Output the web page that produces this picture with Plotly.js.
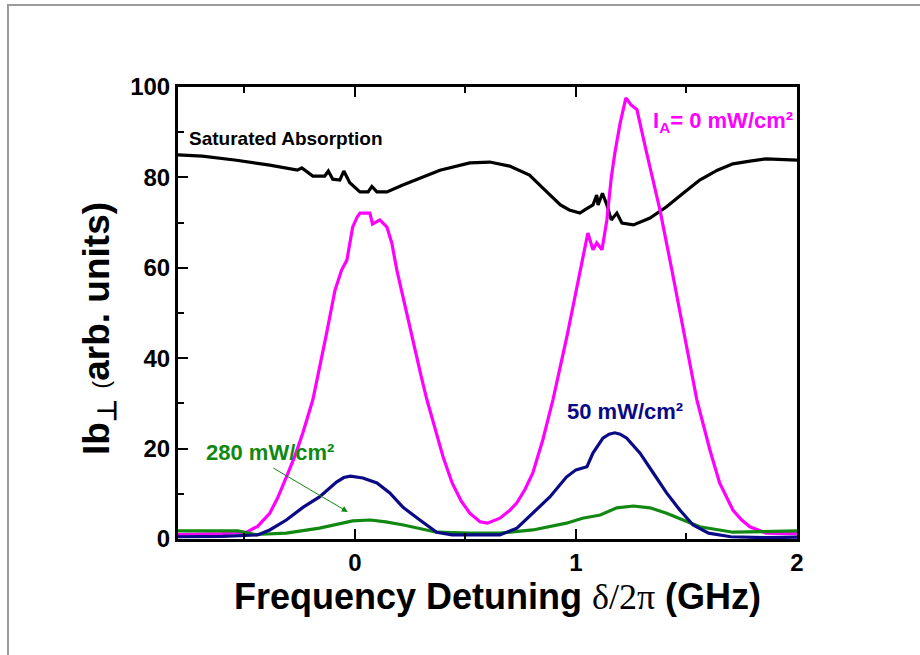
<!DOCTYPE html>
<html>
<head>
<meta charset="utf-8">
<script src="https://cdn.plot.ly/plotly-3.0.1.min.js"></script>
<style>
html,body{margin:0;padding:0;background:#fff;}
#frame{position:absolute;left:7px;top:4px;width:920px;height:660px;border-top:2px solid #9a9a9a;border-left:2px solid #9a9a9a;pointer-events:none;z-index:10;}
</style>
</head>
<body>
<div id="chart" style="width:920px;height:655px;"></div>
<div id="frame"></div>
<script>
// Saturated absorption (black)
const satX = [-0.8,-0.69,-0.535,-0.385,-0.26,-0.24,-0.19,-0.136,-0.12,-0.1,-0.068,-0.05,-0.023,0.023,0.06,0.077,0.1,0.145,0.217,0.285,0.385,0.52,0.61,0.70,0.79,0.86,0.93,0.97,1.018,1.04,1.077,1.094,1.1,1.12,1.14,1.16,1.185,1.208,1.26,1.335,1.41,1.485,1.56,1.64,1.71,1.787,1.86,2.0];
const satY = [85,84.7,83.8,82.7,81.6,82.1,80.3,80.3,81.4,79.6,79.4,81.4,78.8,76.8,76.8,78,76.8,76.8,78.3,79.6,81.6,83.2,83.4,82.5,80.5,77.2,73.9,72.8,72.1,72.8,73.9,76.1,73.9,76.5,73.9,70.6,72.1,69.9,69.5,71,73.5,76.5,79.4,81.6,83,83.6,84.1,83.8];

// I_A = 0 mW/cm^2 (magenta)
const magX = [-0.8,-0.6,-0.49,-0.44,-0.385,-0.35,-0.31,-0.27,-0.235,-0.19,-0.13,-0.09,-0.06,-0.036,-0.01,0.01,0.023,0.068,0.08,0.113,0.145,0.167,0.19,0.22,0.26,0.30,0.326,0.37,0.40,0.44,0.48,0.52,0.566,0.6,0.656,0.70,0.733,0.77,0.805,0.85,0.896,0.96,1.018,1.054,1.077,1.094,1.118,1.14,1.16,1.176,1.2,1.226,1.25,1.276,1.32,1.38,1.434,1.49,1.547,1.606,1.65,1.71,1.75,1.787,1.86,2.0];
const magY = [1.0,1.2,1.5,2.8,5.7,9.0,13.7,18.5,23.5,30.8,45,55,59.5,61.7,69,71.2,72.1,72.1,69.7,70.6,69,65.5,59.5,53,44,36,30.8,23.5,18,12.4,8.5,5.7,3.8,3.5,4.6,6.3,8,11,14.6,21.9,30.8,45,59.5,67.7,64,65.5,64,70.6,80,85.4,92,97.6,96,95,85.4,72.8,59.5,45,30.8,19.7,12.4,6.4,4.2,2.7,1.3,1.2];

// 50 mW/cm^2 (navy)
const blueX = [-0.8,-0.6,-0.44,-0.385,-0.31,-0.235,-0.16,-0.083,-0.05,-0.02,0.036,0.1,0.158,0.218,0.294,0.37,0.44,0.656,0.733,0.805,0.882,0.957,1.0,1.05,1.077,1.122,1.15,1.176,1.2,1.23,1.29,1.35,1.41,1.47,1.53,1.6,1.7,1.86,2.0];
const blueY = [0.5,0.6,0.9,2,4.2,7,9.3,12.6,13.6,13.9,13.5,12.4,10.2,7,4.2,1.5,0.9,0.9,2.4,5.7,9.3,13.7,15.3,16,19,22.3,23.2,23.5,23.2,22.3,19,14.6,10.2,6.4,3.1,1.3,0.5,0.3,0.4];

// 280 mW/cm^2 (green)
const greenX = [-0.8,-0.53,-0.45,-0.31,-0.16,-0.08,-0.01,0.07,0.14,0.22,0.29,0.37,0.52,0.656,0.805,0.957,1.03,1.11,1.185,1.26,1.335,1.41,1.485,1.56,1.71,2.0];
const greenY = [1.8,1.8,1.0,1.3,2.4,3.3,4.0,4.2,3.8,3.1,2.4,1.5,1.3,1.3,2.0,3.5,4.6,5.3,6.9,7.3,6.9,5.7,4.2,2.7,1.5,1.8];

const xTicks = [0,1,2];
const xTickText = ['0','1','2'];
const yTicks = [0,20,40,60,80,100];
const yTickText = ['0','20','40','60','80','100'];

const FONT = 'Liberation Sans, Arial, sans-serif';

const traces = [
  {x: satX, y: satY, mode:'lines', line:{color:'#000000', width:3.2}, name:'Saturated Absorption'},
  {x: magX, y: magY, mode:'lines', line:{color:'#ff00ff', width:3.2}, name:'0 mW/cm²'},
  {x: greenX, y: greenY, mode:'lines', line:{color:'#118811', width:3.2}, name:'280 mW/cm²'},
  {x: blueX, y: blueY, mode:'lines', line:{color:'#0a0a86', width:3.2}, name:'50 mW/cm²'}
];

const layout = {
  width: 920, height: 655,
  margin: {l:178, r:123, t:87, b:116},
  paper_bgcolor:'#ffffff', plot_bgcolor:'#ffffff',
  showlegend:false,
  font:{family:FONT, color:'#000'},
  xaxis:{
    range:[-0.8,2], tickvals:xTicks, ticktext:xTickText,
    ticks:'inside', ticklen:10, tickwidth:2, tickcolor:'#000',
    minor:{tickvals:[-0.5,0.5,1.5], ticks:'inside', ticklen:6, tickwidth:2, tickcolor:'#000'},
    showline:true, linewidth:3, linecolor:'#000', mirror:'ticks',
    showgrid:false, zeroline:false,
    tickfont:{family:FONT, size:24, weight:'bold'},
    title:{text:"&nbsp;&nbsp;Frequency Detuning <span style=\"font-family:'Liberation Serif',serif;font-weight:normal\">δ/2π</span> (GHz)", font:{family:FONT, size:36, weight:'bold'}, standoff:9}
  },
  yaxis:{
    range:[0,100], tickvals:yTicks, ticktext:yTickText,
    ticks:'inside', ticklen:10, tickwidth:2, tickcolor:'#000',
    minor:{dtick:10, ticks:'inside', ticklen:6, tickwidth:2, tickcolor:'#000'},
    showline:true, linewidth:3, linecolor:'#000', mirror:true,
    showgrid:false, zeroline:false,
    tickfont:{family:FONT, size:24, weight:'bold'},
    title:{text:"Ib<sub>⊥</sub> <span style=\"font-size:24px;font-weight:normal\">(</span>arb. units)&nbsp;&nbsp;&nbsp;", font:{family:FONT, size:37, weight:'bold'}, standoff:10}
  },
  annotations:[
    {x:-0.312, y:88.5, xref:'x', yref:'y', text:'Saturated Absorption', showarrow:false, font:{family:FONT, size:19, weight:'bold', color:'#000'}},
    {x:1.665, y:92.3, xref:'x', yref:'y', text:'I<sub>A</sub>= 0 mW/cm²', showarrow:false, font:{family:FONT, size:22, weight:'bold', color:'#ff00ff'}},
    {x:1.222, y:28.3, xref:'x', yref:'y', text:'50 mW/cm²', showarrow:false, font:{family:FONT, size:22, weight:'bold', color:'#0a0a86'}},
    {x:-0.385, y:19.2, xref:'x', yref:'y', text:'280 mW/cm²', showarrow:false, font:{family:FONT, size:22, weight:'bold', color:'#118811'}},
    {x:-0.032, y:6.0, xref:'x', yref:'y', ax:-0.376, ay:15.9, axref:'x', ayref:'y', text:'', showarrow:true, arrowhead:2, arrowsize:1.2, arrowwidth:1, arrowcolor:'#118811'}
  ]
};

Plotly.newPlot('chart', traces, layout, {displayModeBar:false, staticPlot:true});
</script>
</body>
</html>
